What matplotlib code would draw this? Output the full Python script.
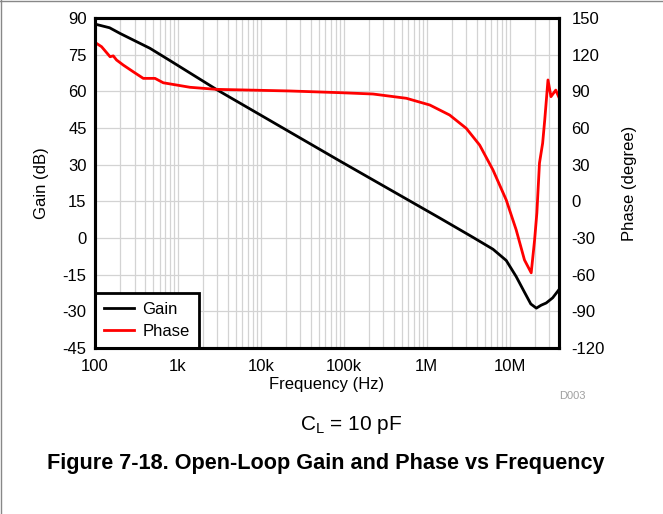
import numpy as np
import matplotlib.pyplot as plt
from matplotlib.lines import Line2D
from matplotlib.ticker import FixedLocator, LogLocator, NullFormatter

plt.rcParams['font.family'] = ['Liberation Sans', 'DejaVu Sans']
plt.rcParams['axes.unicode_minus'] = False

# gain curve (dB)
gain_freq = [100, 150, 200, 289, 460, 800, 3000, 89600, 1430000, 3600000, 6300000, 9100000,
             12000000, 15000000, 18000000, 21000000, 24000000, 27600000, 33000000, 39000000]
gain_db = [87.5, 86.0, 83.7, 81.0, 77.6, 72.6, 60.5, 31.5, 8.2, 0.3, -4.6, -9.2,
           -15.8, -22.0, -27.0, -28.7, -27.5, -26.6, -24.5, -21.3]

# phase curve (degree)
phase_freq = [100, 120, 152, 166, 182, 219, 289, 382, 529, 665, 1396, 2925, 22000,
              89600, 225000, 569000, 1090000, 1890000, 3000000, 4350000, 6300000,
              9100000, 12000000, 15100000, 18200000, 20000000, 21300000, 22900000,
              25000000, 26500000, 29000000, 31500000, 36000000, 39000000]
phase_deg = [130, 126.5, 118.3, 119, 115.6, 111.5, 106, 100.6, 100.6, 97, 93.3, 91.6, 90.3,
             88.9, 87.8, 84.3, 78.8, 70.6, 59.7, 46.0, 25.6,
             1.1, -23.4, -48.0, -58.5, -31.6, -9.5, 31.3,
             47.5, 66.5, 99.3, 85.6, 91, 85.6]

fig = plt.figure(figsize=(6.63, 5.14), dpi=100)
ax = fig.add_axes([0.1433, 0.323, 0.70, 0.642])
ax2 = ax.twinx()

ax.set_xscale('log')
ax.set_xlim(100, 39500000)
ax.set_ylim(-45, 90)
ax2.set_ylim(-120, 150)

ax.grid(True, which='both', axis='x', color='#d3d3d3', linewidth=0.9)
ax.grid(True, which='major', axis='y', color='#d3d3d3', linewidth=0.9)
ax.set_axisbelow(True)
ax.xaxis.set_major_locator(FixedLocator([1e2, 1e3, 1e4, 1e5, 1e6, 1e7]))
ax.xaxis.set_minor_locator(LogLocator(base=10, subs=np.arange(2, 10), numticks=20))
ax.xaxis.set_minor_formatter(NullFormatter())
ax.set_xticklabels(['100', '1k', '10k', '100k', '1M', '10M'])
ax.set_yticks(np.arange(-45, 91, 15))
ax2.set_yticks(np.arange(-120, 151, 30))

ax.tick_params(axis='x', which='both', length=0, labelsize=12, pad=8)
ax.tick_params(axis='y', which='both', length=0, labelsize=12, pad=6)
ax2.tick_params(which='both', length=0, labelsize=12, pad=9)

l1, = ax.plot(gain_freq, gain_db, color='black', linewidth=2)
l2, = ax2.plot(phase_freq, phase_deg, color='#ff0000', linewidth=2)

for a in (ax, ax2):
    for s in a.spines.values():
        s.set_linewidth(2.2)

ax.set_xlabel('Frequency (Hz)', fontsize=12, labelpad=2)
ax.set_ylabel('Gain (dB)', fontsize=12, labelpad=10)
ax2.set_ylabel('Phase (degree)', fontsize=12, labelpad=12)

leg = ax.legend([l1, l2], ['Gain', 'Phase'], loc='lower left', fontsize=12,
                fancybox=False, framealpha=1, edgecolor='black',
                borderaxespad=0, handlelength=1.8, handletextpad=0.5,
                borderpad=0.55, labelspacing=0.4)
leg.get_frame().set_linewidth(2)

fig.text(0.864, 0.229, 'D003', fontsize=8, color='#a0a0a0', ha='center', va='center')
fig.text(0.53, 0.173, r'C$_\mathregular{L}$ = 10 pF', fontsize=15, ha='center', va='center')
fig.text(0.492, 0.099, 'Figure 7-18. Open-Loop Gain and Phase vs Frequency',
         fontsize=15.6, fontweight='bold', ha='center', va='center')

# page frame lines at left and top
fig.add_artist(Line2D([0.001, 0.001], [0, 1], transform=fig.transFigure, color='#888888', linewidth=1))
fig.add_artist(Line2D([0, 1], [0.999, 0.999], transform=fig.transFigure, color='#888888', linewidth=1))

plt.savefig('out.png', dpi=100)
